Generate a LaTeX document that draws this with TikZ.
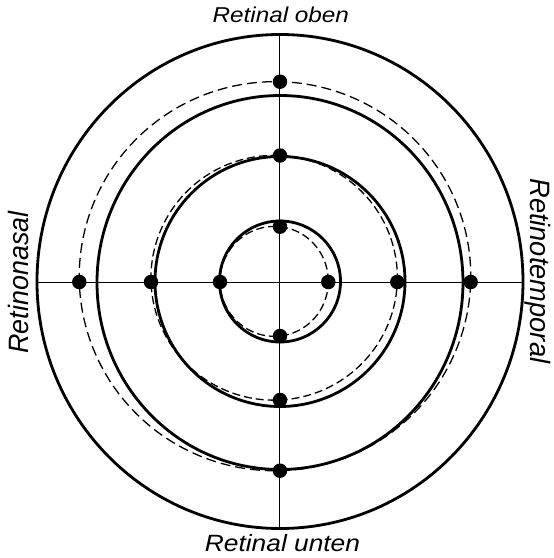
\documentclass[tikz,border=0pt]{standalone}
\usepackage{fontspec}
\setmainfont{Liberation Sans}
\begin{document}
\begin{tikzpicture}[x=1pt,y=1pt,
  ring/.style={line width=2.8pt},
  outerring/.style={line width=2.8pt},
  axis/.style={line width=1pt},
  dashring/.style={line width=1.3pt, dash pattern=on 10pt off 5pt},
  dashringsmall/.style={line width=1.3pt, dash pattern=on 8pt off 4pt},
  dot/.style={circle, fill=black, inner sep=0pt, minimum size=14.5pt},
  lbl/.style={inner sep=0pt, anchor=base}]
\useasboundingbox (-280,-276.5) rectangle (274,281.5);
% cross
\coordinate (N) at (0,247);
\coordinate (S) at (0,-247);
\coordinate (W) at (-243,-0.5);
\coordinate (E) at (243,-0.5);
\draw[axis] (N) -- (S);
\draw[axis] (W) -- (E);
% solid rings
\draw[outerring] (0,0) ellipse [x radius=243, y radius=247];
\draw[ring] (0,-1) ellipse [x radius=183, y radius=187];
\draw[ring] (0,0) circle [radius=125];
\draw[ring] (0,0) circle [radius=60.5];
% dashed rings
\draw[dashring] plot[domain=0:360, samples=145, smooth]
  ({(195.1-5*cos(\x)+5.3*sin(\x)+0.6*cos(2*\x))*cos(\x)},
   {(195.1-5*cos(\x)+5.3*sin(\x)+0.6*cos(2*\x))*sin(\x)}) -- cycle;
\draw[dashringsmall] plot[domain=0:360, samples=145, smooth]
  ({(122.7-5.85*cos(\x)+3.75*sin(\x)+0.45*cos(2*\x))*cos(\x)},
   {(122.7-5.85*cos(\x)+3.75*sin(\x)+0.45*cos(2*\x))*sin(\x)}) -- cycle;
\draw[dashringsmall] plot[domain=0:360, samples=145, smooth]
  ({(54.4-5.85*cos(\x)+0.15*sin(\x)-0.25*cos(2*\x))*cos(\x)},
   {(54.4-5.85*cos(\x)+0.15*sin(\x)-0.25*cos(2*\x))*sin(\x)}) -- cycle;
% dots
\node[dot] (o1) at (0,199.8) {};
\node[dot] (o2) at (-200.7,-0.5) {};
\node[dot] (o3) at (190.7,-0.5) {};
\node[dot] (o4) at (0,-189.2) {};
\node[dot] (m1) at (0,126) {};
\node[dot] (m2) at (-129,-0.5) {};
\node[dot] (m3) at (117.3,-0.5) {};
\node[dot] (m4) at (0,-118.5) {};
\node[dot] (i1) at (0,54.8) {};
\node[dot] (i2) at (-60,-0.5) {};
\node[dot] (i3) at (48.3,-0.5) {};
\node[dot] (i4) at (0,-54.5) {};
% labels
\node[lbl] (top) at (0.8,258.8) {\scalebox{1.13}[1]{\fontsize{21.5}{21.5}\selectfont\itshape Retinal oben}};
\node[lbl] (bottom) at (2.5,-270.2) {\scalebox{1.12}[1]{\fontsize{23.5}{23.5}\selectfont\itshape Retinal unten}};
\node[lbl, rotate=90] (left) at (-251.7,-1) {\scalebox{0.96}[1]{\fontsize{28}{28}\selectfont\itshape Retinonasal}};
\node[lbl, rotate=-90] (right) at (250.7,10.7) {\scalebox{0.974}[1]{\fontsize{28}{28}\selectfont\itshape Retinotemporal}};
\end{tikzpicture}
\end{document}
